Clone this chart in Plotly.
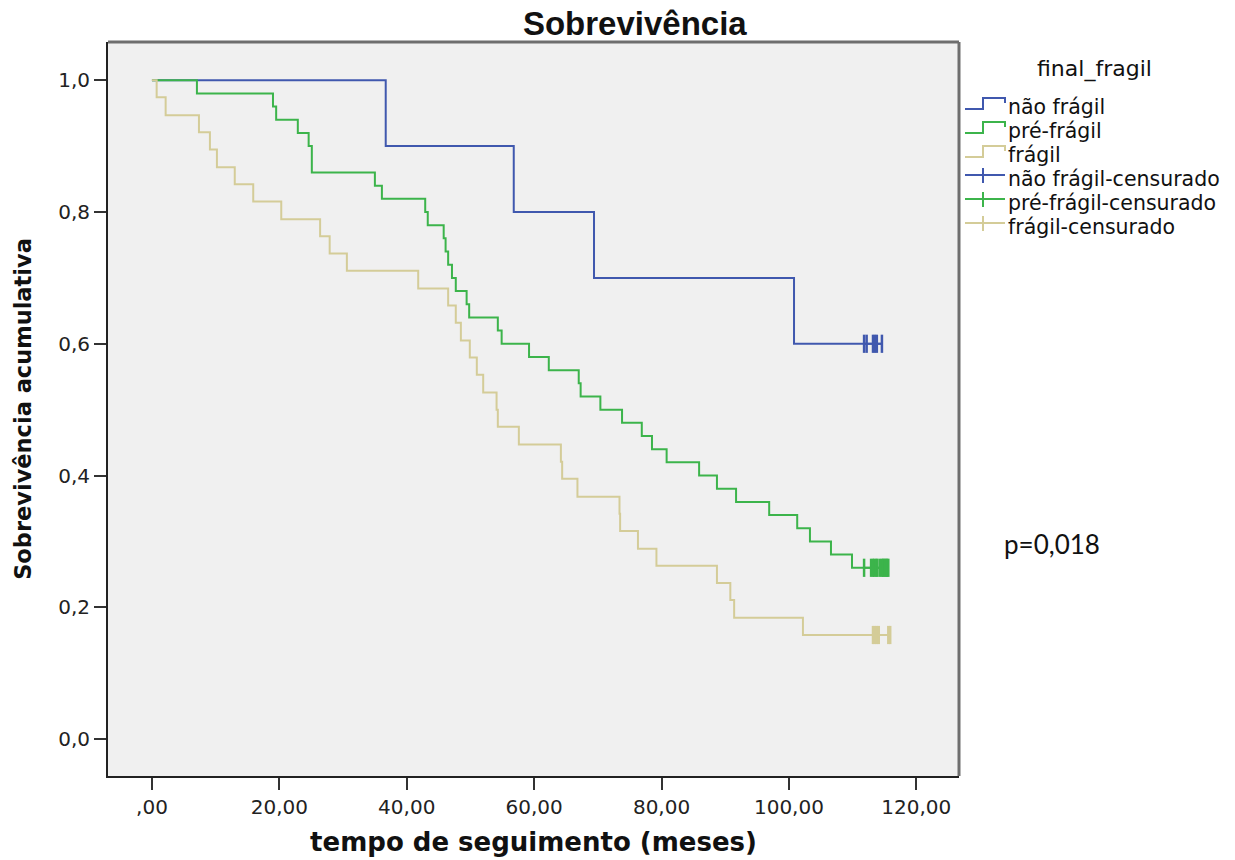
import plotly.graph_objects as go

# ---- data ----
groups = ["não frágil", "pré-frágil", "frágil"]

nao_fragil_t = [0, 36.7, 56.8, 69.4, 100.8, 114.6]
nao_fragil_s = [1.0, 0.9, 0.8, 0.7, 0.6, 0.6]
nao_fragil_cens_t = [111.8, 112.2, 113.2, 113.5, 113.8, 114.6]

pre_fragil_t = [0, 7.06, 19.0, 19.5, 22.9, 24.6, 25.1, 35.0, 36.1, 42.9, 43.3, 45.8, 46.1,
                46.5, 47.1, 47.7, 49.4, 49.8, 54.3, 54.9, 59.2, 62.3, 67.0, 67.3, 70.4,
                73.8, 76.9, 78.5, 80.8, 85.9, 88.7, 91.7, 96.9, 101.3, 103.3, 106.6, 109.9,
                115.6]
pre_fragil_s = [1.0, 0.98, 0.96, 0.94, 0.92, 0.90, 0.86, 0.84, 0.82, 0.80, 0.78, 0.76, 0.74,
                0.72, 0.70, 0.68, 0.66, 0.64, 0.62, 0.60, 0.58, 0.56, 0.54, 0.52, 0.50,
                0.48, 0.46, 0.44, 0.42, 0.40, 0.38, 0.36, 0.34, 0.32, 0.30, 0.28, 0.26,
                0.26]
pre_fragil_cens_t = [111.8, 112.9, 113.2, 113.4, 113.7, 113.9, 114.3, 114.6, 114.8, 115.0,
                     115.2, 115.4, 115.6]

fragil_t = [0, 0.74, 2.15, 7.38, 9.1, 10.2, 13.0, 15.9, 20.3, 26.4, 27.9, 30.6, 41.8, 46.5,
            47.7, 48.5, 49.9, 51.0, 52.0, 54.1, 54.3, 57.6, 64.2, 64.4, 66.8, 73.4, 73.5,
            76.3, 79.2, 88.7, 90.8, 91.4, 102.2, 115.9]
fragil_s = [1.0, 0.974, 0.947, 0.921, 0.895, 0.868, 0.842, 0.816, 0.789, 0.763, 0.737, 0.711,
            0.684, 0.658, 0.632, 0.605, 0.579, 0.553, 0.526, 0.500, 0.474, 0.447, 0.421,
            0.395, 0.368, 0.342, 0.316, 0.289, 0.263, 0.237, 0.211, 0.184, 0.158, 0.158]
fragil_cens_t = [113.2, 113.5, 113.8, 114.1, 115.6, 115.9]

x_tickvals = [0, 20, 40, 60, 80, 100, 120]
x_ticktext = [",00", "20,00", "40,00", "60,00", "80,00", "100,00", "120,00"]
y_tickvals = [0.0, 0.2, 0.4, 0.6, 0.8, 1.0]
y_ticktext = ["0,0", "0,2", "0,4", "0,6", "0,8", "1,0"]

legend_title = "final_fragil"
p_text = "p=0,018"

colors = ["#4058AE", "#3CB44B", "#D4CC98"]

W, H = 1235, 860
PL, PR, PT, PB = 108, 959, 42, 776  # plot-area edges in pixels


def fx(px):
    return (px - PL) / (PR - PL)


def fy(py):
    return (PB - py) / (PB - PT)


# ---- figure ----
fig = go.Figure()
series = [(nao_fragil_t, nao_fragil_s), (pre_fragil_t, pre_fragil_s), (fragil_t, fragil_s)]
for name, (t, s), c in zip(groups, series, colors):
    fig.add_trace(go.Scatter(x=t, y=s, mode="lines", line=dict(color=c, width=2, shape="hv"),
                             name=name, showlegend=False))

cens = [nao_fragil_cens_t, pre_fragil_cens_t, fragil_cens_t]
for name, ct, (t, s), c in zip(groups, cens, series, colors):
    fig.add_trace(go.Scatter(x=ct, y=[s[-1]] * len(ct), mode="lines+markers",
                             line=dict(color=c, width=2),
                             marker=dict(symbol="line-ns", size=13,
                                         line=dict(color=c, width=2.5)),
                             name=name + "-censurado", showlegend=False))

fig.update_layout(
    width=W, height=H,
    margin=dict(l=PL, r=W - PR, t=PT, b=H - PB, autoexpand=False),
    paper_bgcolor="white", plot_bgcolor="#F0F0F0",
    title=dict(text="<b>Sobrevivência</b>", x=0.514, xanchor="center", xref="container",
               y=0.973, yanchor="middle", yref="container", automargin=False,
               font=dict(family="Liberation Sans", size=33, color="#111")),
    showlegend=False,
    font=dict(family="DejaVu Sans", color="#222"),
)

fig.update_xaxes(range=[-6.9, 126.7], tickvals=x_tickvals, ticktext=x_ticktext,
                 showgrid=False, zeroline=False, showline=True, linecolor="#222", linewidth=2,
                 ticks="outside", ticklen=12, tickwidth=2, tickcolor="#333", automargin=False,
                 tickfont=dict(family="DejaVu Sans", size=20, color="#222"),
                 title=dict(text="<b>tempo de seguimento (meses)</b>", standoff=15,
                            font=dict(family="DejaVu Sans", size=26, color="#111")))
fig.update_yaxes(range=[-0.056, 1.058], tickvals=y_tickvals, ticktext=y_ticktext,
                 showgrid=False, zeroline=False, showline=True, linecolor="#222", linewidth=2,
                 ticks="outside", ticklen=12, tickwidth=2, tickcolor="#333", automargin=False,
                 tickfont=dict(family="DejaVu Sans", size=20, color="#222"),
                 title=dict(text="<b>Sobrevivência acumulativa</b>", standoff=20,
                            font=dict(family="DejaVu Sans", size=22.5, color="#111")))

# top and right frame lines (grey, as in the reference)
fig.add_shape(type="line", xref="paper", yref="paper", x0=0, x1=1, y0=1, y1=1,
              line=dict(color="#6E6E6E", width=3))
fig.add_shape(type="line", xref="paper", yref="paper", x0=1, x1=1, y0=0, y1=1,
              line=dict(color="#6E6E6E", width=3))

# ---- legend (SPSS style, step icons for curves, tick icons for censored) ----
fig.add_annotation(text=legend_title, xref="paper", yref="paper", x=fx(1094), y=fy(69),
                   xanchor="center", yanchor="middle", showarrow=False,
                   font=dict(family="DejaVu Sans", size=22, color="#111"))
labels = groups + [g + "-censurado" for g in groups]
row_c = [107, 131, 155, 179, 203, 227]
icon_x0, icon_xm, icon_x1, text_x = 965, 983, 1005, 1006
for i, (lab, c) in enumerate(zip(labels, colors + colors)):
    yc = row_c[i]
    if i < 3:
        path = (f"M {fx(icon_x0)} {fy(yc + 2)} L {fx(icon_xm)} {fy(yc + 2)} "
                f"L {fx(icon_xm)} {fy(yc - 9)} L {fx(icon_x1)} {fy(yc - 9)} "
                f"L {fx(icon_x1)} {fy(yc - 4)}")
        fig.add_shape(type="path", path=path, xref="paper", yref="paper",
                      line=dict(color=c, width=2))
    else:
        fig.add_shape(type="line", xref="paper", yref="paper", x0=fx(icon_x0), x1=fx(icon_x1),
                      y0=fy(yc - 4), y1=fy(yc - 4), line=dict(color=c, width=2))
        fig.add_shape(type="line", xref="paper", yref="paper", x0=fx(icon_xm), x1=fx(icon_xm),
                      y0=fy(yc - 11), y1=fy(yc + 4), line=dict(color=c, width=2))
    fig.add_annotation(text=lab, xref="paper", yref="paper", x=fx(text_x), y=fy(yc),
                       xanchor="left", yanchor="middle", showarrow=False,
                       font=dict(family="DejaVu Sans", size=20.5, color="#111"))

fig.add_annotation(text=p_text, xref="paper", yref="paper", x=fx(1052), y=fy(544),
                   xanchor="center", yanchor="middle", showarrow=False,
                   font=dict(family="Lato", size=26, color="#111"))

fig.write_html("out.html", config={"displayModeBar": False},
               post_script="document.body.style.margin='0';")
